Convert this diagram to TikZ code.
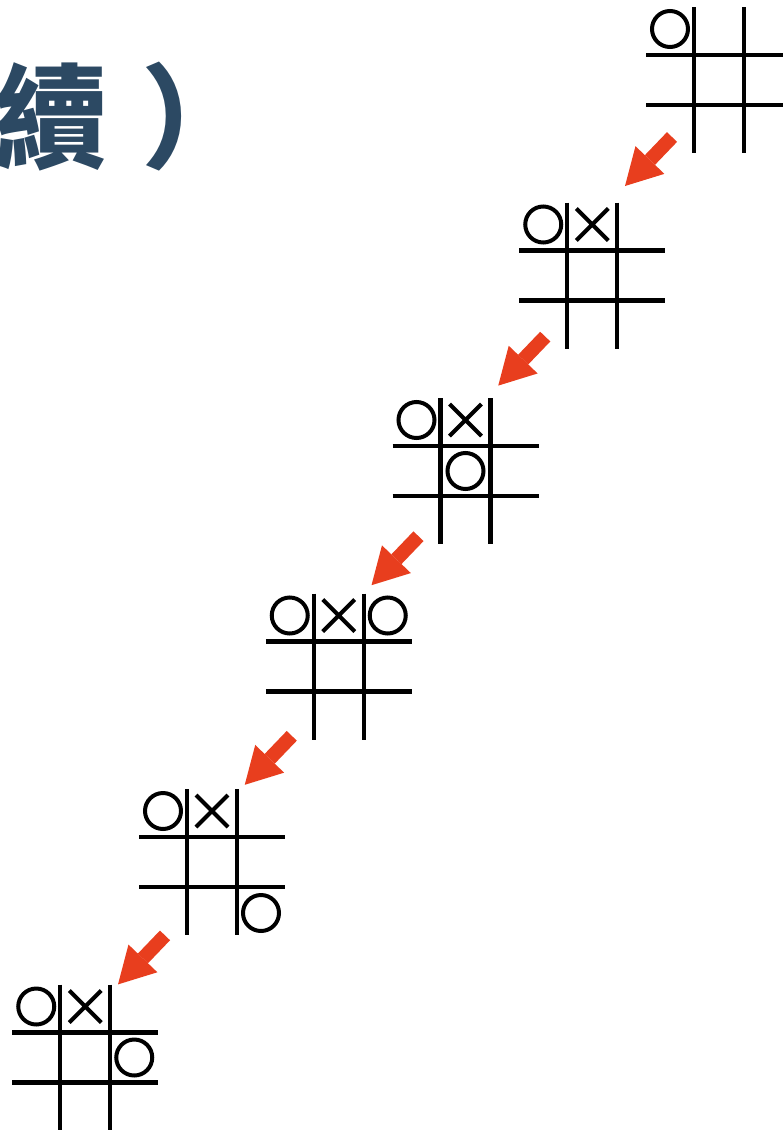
\documentclass[tikz,border=0pt]{standalone}
\usepackage{fontspec}
\newfontfamily\cjk{Noto Sans CJK TC}
\usepackage{tikz}
\usetikzlibrary{arrows.meta}
\usetikzlibrary{shapes.misc}
\usetikzlibrary{calc}
\definecolor{titleblue}{RGB}{44,73,99}
\definecolor{arrowred}{RGB}{232,62,30}
\tikzstyle{grid} = [line width=4.4pt, black]
\tikzstyle{nought} = [circle, draw, line width=4pt, minimum size=36pt, inner sep=0pt]
\tikzstyle{cross} = [cross out, draw, line width=4pt, minimum size=28pt, inner sep=0pt]
\tikzstyle{mv} = [line width=14pt, arrowred, -{Triangle[width=40pt,length=36pt,line width=0pt]}]

\begin{document}
\begin{tikzpicture}[x=1pt, y={(0pt,-1pt)}]
	\fill[white] (0,0) rectangle (782,1130);
	\useasboundingbox (0,0) rectangle (782,1130);
	\node[font=\cjk\bfseries\fontsize{113}{113}\selectfont, text=titleblue,
		anchor=base west, inner sep=0pt] (title) at (-6,159) {續\hspace{34pt}）};
	% boards
	\foreach \n in {1,...,6}
	{
		\coordinate (b\n) at (719-126.75*\n+126.75, 80+195.5*\n-195.5);
		\draw[grid] ($(b\n)+(-25,-73)$) -- ($(b\n)+(-25,73)$);
		\draw[grid] ($(b\n)+(25,-73)$) -- ($(b\n)+(25,73)$);
		\draw[grid] ($(b\n)+(-73,-25)$) -- ($(b\n)+(73,-25)$);
		\draw[grid] ($(b\n)+(-73,25)$) -- ($(b\n)+(73,25)$);
	}
	% moves
	\foreach \n/\c/\r/\m [count=\k] in {1/-1/-1/nought,
		2/-1/-1/nought, 2/0/-1/cross,
		3/-1/-1/nought, 3/0/-1/cross, 3/0/0/nought,
		4/-1/-1/nought, 4/0/-1/cross, 4/1/-1/nought,
		5/-1/-1/nought, 5/0/-1/cross, 5/1/1/nought,
		6/-1/-1/nought, 6/0/-1/cross, 6/1/0/nought}
		\node[\m] (m\k) at ($(b\n)+(49*\c,51*\r)$) {};
	% arrows
	\foreach \i in {1,...,5}
	{
		\coordinate (s\i) at (672-126.75*\i+126.75, 137+199.6*\i-199.6);
		\coordinate (e\i) at ($(s\i)+(-47,49)$);
		\draw[mv] (s\i) -- (e\i);
	}
\end{tikzpicture}
\end{document}
